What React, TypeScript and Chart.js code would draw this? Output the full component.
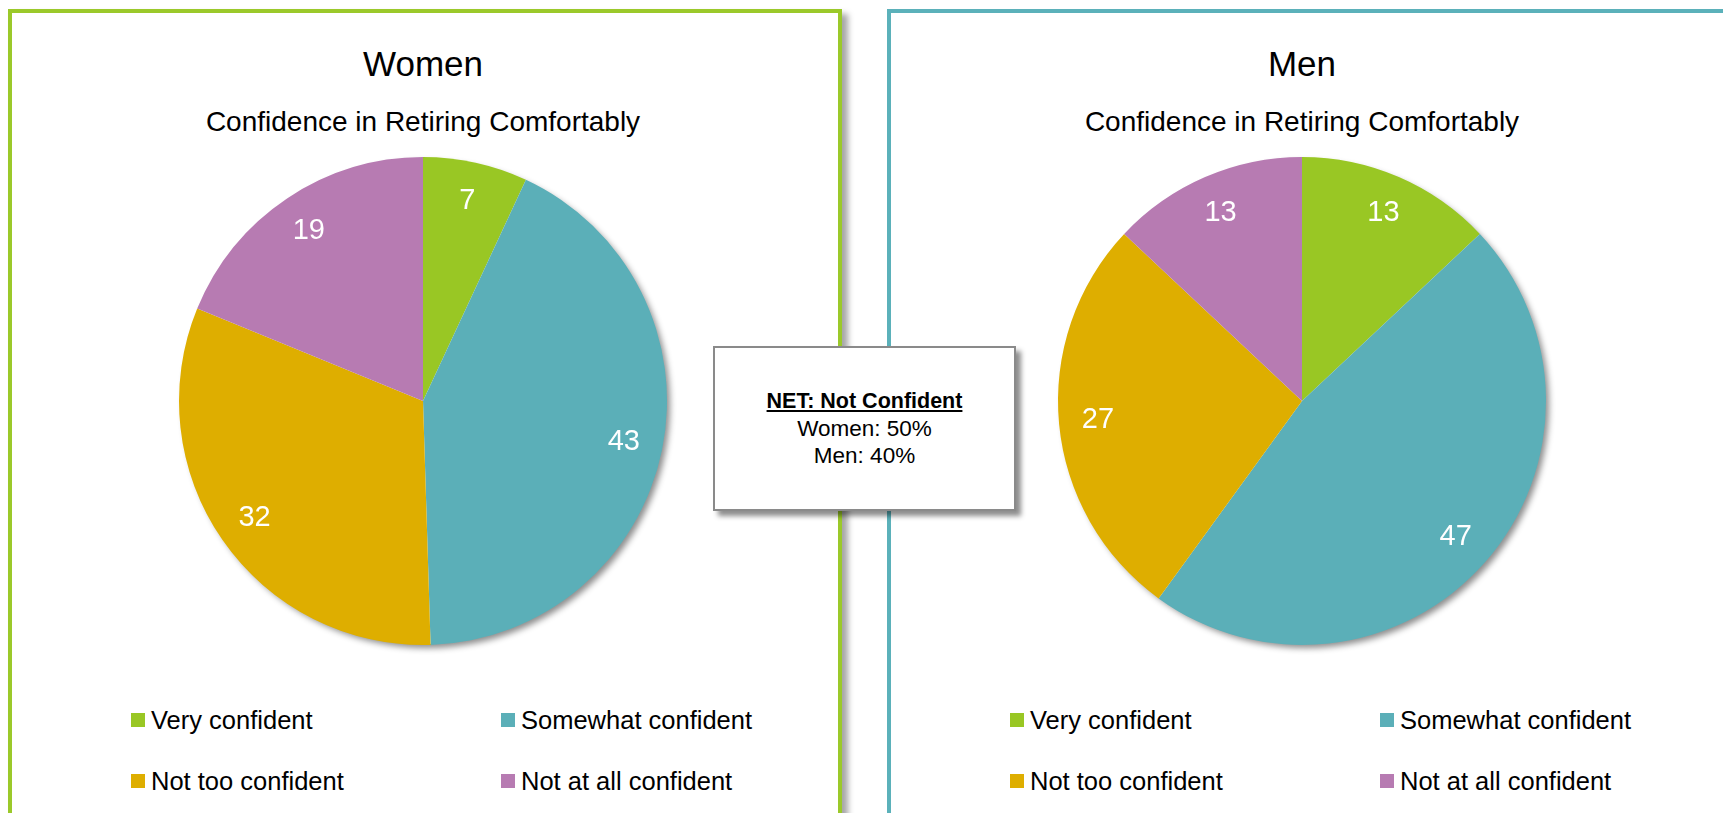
import React, { useEffect, useRef } from "react";
import { Chart, registerables } from "chart.js";

Chart.register(...registerables);

const categories = ["Very confident", "Somewhat confident", "Not too confident", "Not at all confident"];
const womenValues = [7, 43, 32, 19];
const menValues = [13, 47, 27, 13];
const sliceColors = ["#99C724", "#5BAFB8", "#DEAE00", "#B77BB2"];
const panelTitles = ["Women", "Men"];
const subtitle = "Confidence in Retiring Comfortably";
const netHeading = "NET: Not Confident";
const netLines = ["Women: 50%", "Men: 40%"];

const FONT = '"Liberation Sans", Arial, sans-serif';

const pieShadowPlugin = {
  id: "pieShadow",
  beforeDatasetsDraw(chart: any) {
    const meta = chart.getDatasetMeta(0);
    const arc = meta.data[0];
    if (!arc) return;
    const { x, y, outerRadius } = arc.getProps(["x", "y", "outerRadius"], true);
    const ctx = chart.ctx;
    ctx.save();
    ctx.shadowColor = "rgba(0,0,0,0.45)";
    ctx.shadowBlur = 6;
    ctx.shadowOffsetX = 4;
    ctx.shadowOffsetY = 4;
    ctx.fillStyle = "#ffffff";
    ctx.beginPath();
    ctx.arc(x, y, outerRadius - 1, 0, Math.PI * 2);
    ctx.fill();
    ctx.restore();
  },
};

const sliceLabelPlugin = {
  id: "sliceLabels",
  afterDatasetsDraw(chart: any) {
    const meta = chart.getDatasetMeta(0);
    const data = chart.data.datasets[0].data as number[];
    const ctx = chart.ctx;
    ctx.save();
    ctx.fillStyle = "#ffffff";
    ctx.font = `29px ${FONT}`;
    ctx.textAlign = "center";
    ctx.textBaseline = "middle";
    meta.data.forEach((arc: any, i: number) => {
      const { x, y, startAngle, endAngle, outerRadius } = arc.getProps(
        ["x", "y", "startAngle", "endAngle", "outerRadius"],
        true
      );
      const mid = (startAngle + endAngle) / 2;
      const r = outerRadius * 0.84;
      ctx.fillText(String(data[i]), x + Math.cos(mid) * r, y + Math.sin(mid) * r);
    });
    ctx.restore();
  },
};

function PieChart({ values, left, top }: { values: number[]; left: number; top: number }) {
  const ref = useRef<HTMLCanvasElement | null>(null);
  useEffect(() => {
    if (!ref.current) return;
    const chart = new Chart(ref.current, {
      type: "pie",
      data: {
        labels: categories,
        datasets: [
          {
            data: values,
            backgroundColor: sliceColors,
            borderWidth: 0,
          },
        ],
      },
      options: {
        animation: false,
        responsive: false,
        layout: { padding: 16 },
        plugins: {
          legend: { display: false },
          tooltip: { enabled: false },
          title: { display: false },
        },
      },
      plugins: [pieShadowPlugin, sliceLabelPlugin],
    });
    return () => chart.destroy();
  }, [values]);
  return (
    <canvas
      ref={ref}
      width={520}
      height={520}
      style={{ position: "absolute", left, top, width: 520, height: 520 }}
    />
  );
}

function Legend({ cx }: { cx: number }) {
  const cols = [cx - 292, cx + 78];
  const rows = [720, 781];
  return (
    <>
      {categories.map((c, i) => {
        const x = cols[i % 2];
        const y = rows[Math.floor(i / 2)];
        return (
          <div
            key={c}
            style={{
              position: "absolute",
              left: x,
              top: y - 16,
              height: 32,
              display: "flex",
              alignItems: "center",
              whiteSpace: "nowrap",
              fontFamily: FONT,
              fontSize: 25.5,
              color: "#000",
            }}
          >
            <span
              style={{
                display: "inline-block",
                width: 14,
                height: 14,
                background: sliceColors[i],
                marginRight: 6,
              }}
            />
            {c}
          </div>
        );
      })}
    </>
  );
}

function Titles({ cx, title }: { cx: number; title: string }) {
  return (
    <>
      <div
        style={{
          position: "absolute",
          left: cx - 300,
          width: 600,
          top: 44,
          textAlign: "center",
          fontFamily: FONT,
          fontSize: 35,
          lineHeight: "40px",
          color: "#000",
        }}
      >
        {title}
      </div>
      <div
        style={{
          position: "absolute",
          left: cx - 300,
          width: 600,
          top: 105,
          textAlign: "center",
          fontFamily: FONT,
          fontSize: 28,
          lineHeight: "34px",
          color: "#000",
        }}
      >
        {subtitle}
      </div>
    </>
  );
}

export default function App() {
  const womenCx = 423;
  const menCx = 1302;
  return (
    <div
      style={{
        position: "fixed",
        left: 0,
        top: 0,
        width: 1723,
        height: 813,
        overflow: "hidden",
        background: "#ffffff",
      }}
    >
      <div
        style={{
          position: "absolute",
          left: 8,
          top: 9,
          width: 826,
          height: 900,
          border: "4px solid #9BC92A",
          boxShadow: "6px 5px 6px rgba(0,0,0,0.35)",
          background: "#fff",
        }}
      />
      <div
        style={{
          position: "absolute",
          left: 887,
          top: 9,
          width: 900,
          height: 900,
          border: "4px solid #5BB1BA",
          background: "#fff",
        }}
      />
      <Titles cx={womenCx} title={panelTitles[0]} />
      <Titles cx={menCx} title={panelTitles[1]} />
      <PieChart values={womenValues} left={womenCx - 260} top={141} />
      <PieChart values={menValues} left={menCx - 260} top={141} />
      <Legend cx={womenCx} />
      <Legend cx={menCx} />
      <div
        style={{
          position: "absolute",
          left: 713,
          top: 346,
          width: 299,
          height: 161,
          border: "2px solid #8a8a8a",
          boxShadow: "5px 5px 5px rgba(0,0,0,0.45)",
          background: "#fff",
          fontFamily: FONT,
          fontSize: 22.5,
          lineHeight: "27px",
          color: "#000",
          textAlign: "center",
          display: "flex",
          flexDirection: "column",
          justifyContent: "center",
          zIndex: 5,
        }}
      >
        <div style={{ fontWeight: "bold", textDecoration: "underline", fontSize: 21.5 }}>{netHeading}</div>
        {netLines.map((l) => (
          <div key={l}>{l}</div>
        ))}
      </div>
    </div>
  );
}
